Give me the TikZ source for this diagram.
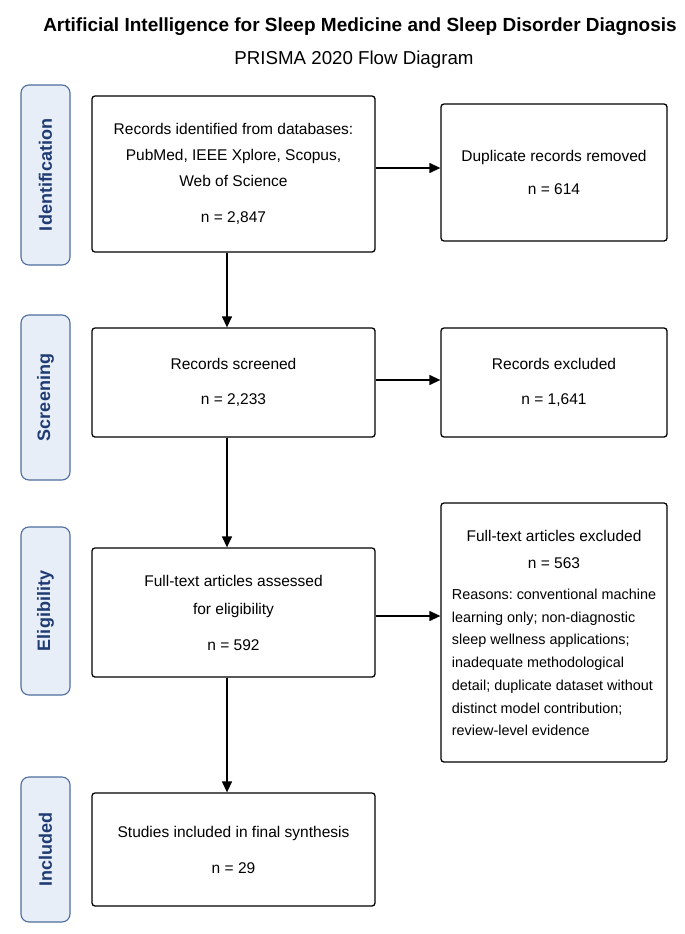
\documentclass[tikz,border=0pt]{standalone}
\usepackage{fontspec}
\setmainfont{Liberation Sans}
\usetikzlibrary{arrows.meta}
\frenchspacing
\definecolor{lblfill}{HTML}{E8EEF7}
\definecolor{lbldraw}{HTML}{4E6E9E}
\definecolor{lbltext}{HTML}{1F3B73}
\tikzset{
  phase/.style={draw=lbldraw, fill=lblfill, line width=1.1pt, rounded corners=8pt,
    minimum width=49pt, inner sep=0pt, text=lbltext,
    font=\fontsize{18}{20}\selectfont\bfseries},
  phasetext/.style={rotate=90, text=lbltext, font=\fontsize{18}{20}\selectfont\bfseries, inner sep=0pt},
  box/.style={draw=black, fill=white, line width=1.3pt, rounded corners=3pt,
    inner sep=0pt, align=center, font=\fontsize{15.5}{26}\selectfont},
  arr/.style={line width=1.3pt, -{Triangle[length=11pt,width=10pt]}},
}
\begin{document}
\begin{tikzpicture}[x=1pt,y=-1pt]
\useasboundingbox[fill=white] (0,0) rectangle (685,934);

% titles
\node[anchor=base, inner sep=0pt, font=\fontsize{19}{22}\selectfont\bfseries] (title) at (360,32)
  {Artificial Intelligence for Sleep Medicine and Sleep Disorder Diagnosis};
\node[anchor=base, inner sep=0pt, font=\fontsize{18.7}{22}\selectfont] (subtitle) at (354,64)
  {PRISMA 2020 Flow Diagram};

% phase labels
\node[phase, minimum height=180pt] (pid) at (45.5,175) {};
\node[phasetext] (tid) at (pid.center) {Identification};
\node[phase, minimum height=165pt] (pscr) at (45.5,397.5) {};
\node[phasetext] (tscr) at (pscr.center) {Screening};
\node[phase, minimum height=168pt] (pel) at (45.5,611) {};
\node[phasetext] (tel) at (pel.center) {Eligibility};
\node[phase, minimum height=145pt] (pinc) at (45.5,849.5) {};
\node[phasetext] (tinc) at (pinc.center) {Included};

% main boxes
\node[box, minimum width=283pt, minimum height=156pt] (rec) at (233.5,174)
  {Records identified from databases:\\PubMed, IEEE Xplore, Scopus,\\Web of Science\\[10pt]n = 2,847};
\node[box, minimum width=226pt, minimum height=137pt] (dup) at (554,172.5)
  {Duplicate records removed\\[7pt]n = 614};
\node[box, minimum width=283pt, minimum height=109pt] (scr) at (233.5,382.5)
  {Records screened\\[9pt]n = 2,233};
\node[box, minimum width=226pt, minimum height=109pt] (exc) at (554,382.5)
  {Records excluded\\[9pt]n = 1,641};
\node[box, minimum width=283pt, minimum height=129pt, font=\fontsize{15.5}{28}\selectfont] (ft) at (233.5,612.5)
  {Full-text articles assessed\\for eligibility\\[8pt]n = 592};
\node[box, minimum width=226pt, minimum height=259pt, font=\fontsize{15.5}{27}\selectfont] (ftx) at (554,632.5)
  {\rule{0pt}{19pt}Full-text articles excluded\\n = 563\\[4pt]
   {\fontsize{14.4}{22.7}\selectfont\begin{tabular}[t]{@{}l@{}}
   Reasons: conventional machine\\
   learning only; non-diagnostic\\
   sleep wellness applications;\\
   inadequate methodological\\
   detail; duplicate dataset without\\
   distinct model contribution;\\
   review-level evidence
   \end{tabular}}};
\node[box, minimum width=283pt, minimum height=113pt] (inc) at (233.5,849.5)
  {Studies included in final synthesis\\[10pt]n = 29};

% connectors
\coordinate (vx) at (227,0);
\draw[arr] (rec.south -| vx) -- (scr.north -| vx);
\draw[arr] (scr.south -| vx) -- (ft.north -| vx);
\draw[arr] (ft.south -| vx) -- (inc.north -| vx);
\draw[arr] ([yshift=6pt]rec.east) -- ([yshift=6pt]rec.east -| dup.west);
\draw[arr] ([yshift=2.5pt]scr.east) -- ([yshift=2.5pt]scr.east -| exc.west);
\draw[arr] ([yshift=-3.5pt]ft.east) -- ([yshift=-3.5pt]ft.east -| ftx.west);
\end{tikzpicture}
\end{document}
